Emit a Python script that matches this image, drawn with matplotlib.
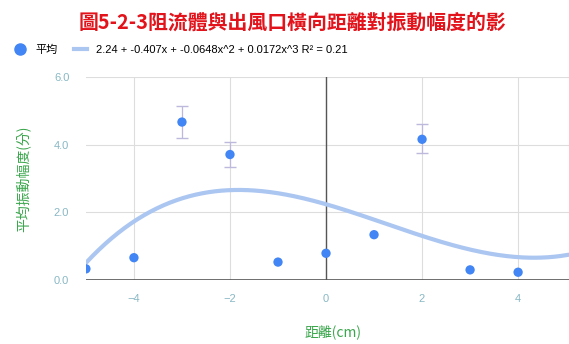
import numpy as np
import matplotlib.pyplot as plt
from matplotlib.lines import Line2D

plt.rcParams['font.family'] = ['Liberation Sans', 'Noto Sans CJK TC', 'DejaVu Sans']

distance = [-5, -4, -3, -2, -1, 0, 1, 2, 3, 4]
amplitude = [0.33, 0.66, 4.67, 3.71, 0.53, 0.79, 1.34, 4.16, 0.30, 0.23]
err_low = [0, 0, 0.46, 0.36, 0, 0, 0, 0.41, 0, 0]
err_high = [0, 0, 0.46, 0.36, 0, 0, 0, 0.44, 0, 0]
coef = [2.24, -0.407, -0.0648, 0.0172]
r2 = 0.21

title = "圖5-2-3阻流體與出風口橫向距離對振動幅度的影"
xlabel = "距離(cm)"
ylabel = "平均振動幅度(分)"

dot_color = "#4285f4"
trend_color = "#abc6f1"
tick_color = "#88b8c4"
label_color = "#3aa64c"
cjk = ['Noto Sans CJK TC', 'DejaVu Sans']

fig = plt.figure(figsize=(5.69, 3.44), dpi=100)
ax = fig.add_axes([0.151, 0.186, 0.849, 0.59])

xmin, xmax = -5, 5.06
xs = np.linspace(xmin, xmax, 300)
ys = coef[0] + coef[1] * xs + coef[2] * xs ** 2 + coef[3] * xs ** 3
ax.plot(xs, ys, color=trend_color, lw=3, solid_capstyle="round", zorder=2)

# only the measured points with spread get error bars
idx = [i for i in range(len(distance)) if err_low[i] > 0]
ax.errorbar([distance[i] for i in idx], [amplitude[i] for i in idx],
            yerr=[[err_low[i] for i in idx], [err_high[i] for i in idx]],
            fmt="none", ecolor="#bdb9dd", elinewidth=0.9, capsize=4, zorder=3)
ax.scatter(distance, amplitude, s=45, color=dot_color, zorder=4, edgecolors="none")

ax.set_xlim(xmin, xmax)
ax.set_ylim(0, 6)
ax.set_xticks([-4, -2, 0, 2, 4])
ax.set_yticks([0, 2, 4, 6])
ax.set_yticklabels(["0.0", "2.0", "4.0", "6.0"])
ax.grid(True, color="#dddddd", lw=0.8)
ax.axvline(0, color="#555555", lw=1.0, zorder=1.8)
ax.axhline(0, color="#555555", lw=1.2, zorder=1.8)
for s in ax.spines.values():
    s.set_visible(False)
ax.tick_params(length=0, colors=tick_color, labelsize=8, pad=10)
ax.tick_params(axis="y", pad=12)

ax.set_ylabel(ylabel, color=label_color, fontsize=10, labelpad=16, family=cjk)
fig.text(0.585, 0.032, xlabel, color=label_color, fontsize=10, ha="center",
         va="center", family=cjk)

fig.text(0.514, 0.937, title, color="#e3131b", fontsize=14.3, fontweight="bold",
         ha="center", va="center", family=cjk)

eq = "%.2f + %.3fx + %.4fx^2 + %.4fx^3 R² = %.2f" % (coef[0], coef[1], coef[2], coef[3], r2)
handles = [
    Line2D([], [], marker="o", ls="none", color=dot_color, markersize=8),
    Line2D([], [], color=trend_color, lw=3),
]
fig.legend(handles, ["平均", eq], loc="center left", bbox_to_anchor=(0.005, 0.855),
           ncol=2, frameon=False, fontsize=8, handlelength=1.2, handletextpad=0.8,
           columnspacing=1.5)

fig.savefig("out.png", dpi=100)
